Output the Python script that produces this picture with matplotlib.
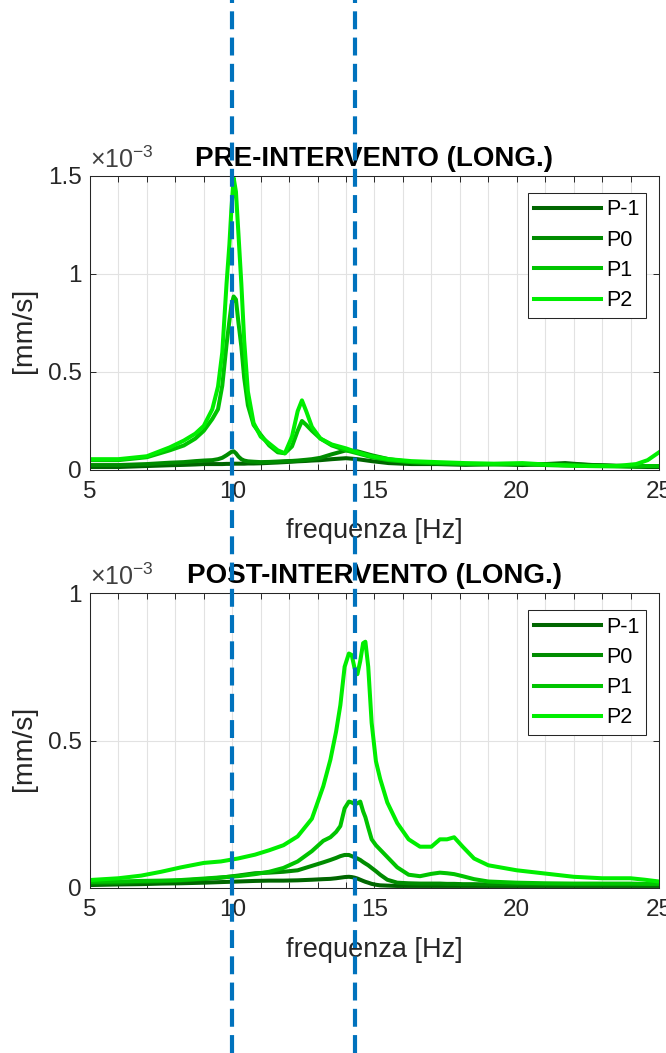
import matplotlib
matplotlib.use('Agg')
import matplotlib.pyplot as plt
import matplotlib.transforms as mtransforms
from matplotlib.lines import Line2D
from matplotlib.ticker import MultipleLocator, FuncFormatter

plt.rcParams['font.family'] = ['Liberation Sans', 'DejaVu Sans']
plt.rcParams['mathtext.fontset'] = 'custom'
plt.rcParams['mathtext.rm'] = 'Liberation Sans'
plt.rcParams['mathtext.it'] = 'Liberation Sans:italic'

# spettri in mm/s (valori x 1e-3)
freq_pre = [5.0, 6.0, 7.0, 7.8, 8.3, 8.7, 9.0, 9.3, 9.5, 9.65, 9.8, 9.9, 9.97, 10.05, 10.13,
            10.22, 10.32, 10.42, 10.55, 10.75, 11.0, 11.3, 11.6, 11.85, 12.1, 12.3, 12.45,
            12.6, 12.8, 13.1, 13.5, 14.0, 14.4, 14.9, 15.5, 16.3, 17.2, 18.2, 19.2, 20.2,
            21.0, 21.7, 22.5, 23.5, 24.2, 24.6, 25.0]
pre_pm1 = [0.015, 0.015, 0.02, 0.024, 0.026, 0.028, 0.03, 0.03, 0.03, 0.03, 0.031, 0.031,
           0.032, 0.032, 0.032, 0.032, 0.032, 0.032, 0.033, 0.033, 0.034, 0.036, 0.038, 0.04,
           0.042, 0.044, 0.045, 0.046, 0.048, 0.05, 0.055, 0.06, 0.055, 0.045, 0.035, 0.03,
           0.03, 0.026, 0.03, 0.025, 0.03, 0.035, 0.026, 0.02, 0.016, 0.015, 0.015]
pre_p0 = [0.025, 0.025, 0.03, 0.037, 0.04, 0.045, 0.048, 0.05, 0.055, 0.062, 0.075, 0.085,
          0.092, 0.095, 0.085, 0.068, 0.055, 0.048, 0.044, 0.042, 0.04, 0.041, 0.043, 0.045,
          0.046, 0.048, 0.05, 0.052, 0.055, 0.062, 0.08, 0.1, 0.095, 0.075, 0.055, 0.04,
          0.033, 0.03, 0.03, 0.03, 0.028, 0.03, 0.026, 0.022, 0.02, 0.02, 0.02]
pre_p1 = [0.05, 0.05, 0.065, 0.1, 0.125, 0.16, 0.2, 0.26, 0.31, 0.43, 0.64, 0.76, 0.84,
          0.885, 0.87, 0.75, 0.63, 0.47, 0.33, 0.23, 0.18, 0.125, 0.09, 0.085, 0.12, 0.2,
          0.25, 0.23, 0.2, 0.16, 0.125, 0.1, 0.085, 0.065, 0.05, 0.04, 0.035, 0.03, 0.028,
          0.03, 0.025, 0.022, 0.02, 0.018, 0.018, 0.02, 0.02]
pre_p2 = [0.055, 0.055, 0.07, 0.115, 0.15, 0.185, 0.225, 0.31, 0.425, 0.6, 0.95, 1.15, 1.33,
          1.49, 1.42, 1.2, 0.95, 0.66, 0.4, 0.24, 0.17, 0.135, 0.1, 0.085, 0.17, 0.3, 0.355,
          0.3, 0.22, 0.16, 0.13, 0.11, 0.09, 0.07, 0.055, 0.045, 0.04, 0.035, 0.032, 0.035,
          0.028, 0.024, 0.02, 0.02, 0.03, 0.05, 0.09]

freq_post = [5.0, 6.0, 6.8, 7.5, 8.2, 9.0, 9.6, 10.2, 10.8, 11.3, 11.8, 12.3, 12.8, 13.2,
             13.45, 13.65, 13.8, 13.95, 14.1, 14.2, 14.3, 14.4, 14.5, 14.6, 14.68, 14.78,
             14.9, 15.05, 15.2, 15.45, 15.8, 16.2, 16.6, 17.0, 17.3, 17.55, 17.8, 18.1, 18.5,
             19.0, 20.0, 21.0, 22.0, 23.0, 24.0, 24.5, 25.0]
post_pm1 = [0.01, 0.012, 0.013, 0.015, 0.016, 0.018, 0.02, 0.022, 0.024, 0.025, 0.025, 0.026,
            0.028, 0.03, 0.031, 0.033, 0.035, 0.037, 0.038, 0.037, 0.035, 0.032, 0.028, 0.024,
            0.021, 0.018, 0.014, 0.011, 0.009, 0.008, 0.007, 0.007, 0.007, 0.007, 0.007,
            0.007, 0.007, 0.007, 0.007, 0.007, 0.007, 0.007, 0.007, 0.007, 0.007, 0.007, 0.007]
post_p0 = [0.015, 0.017, 0.02, 0.022, 0.025, 0.03, 0.035, 0.042, 0.05, 0.052, 0.055, 0.06,
           0.075, 0.087, 0.095, 0.102, 0.108, 0.112, 0.112, 0.108, 0.104, 0.1, 0.095, 0.088,
           0.083, 0.077, 0.068, 0.057, 0.045, 0.028, 0.018, 0.016, 0.015, 0.015, 0.015, 0.014,
           0.014, 0.013, 0.013, 0.012, 0.012, 0.012, 0.012, 0.012, 0.012, 0.012, 0.012]
post_p1 = [0.021, 0.022, 0.024, 0.025, 0.027, 0.032, 0.036, 0.04, 0.047, 0.055, 0.068, 0.09,
           0.125, 0.16, 0.172, 0.19, 0.21, 0.27, 0.293, 0.29, 0.285, 0.287, 0.293, 0.26, 0.24,
           0.205, 0.165, 0.145, 0.13, 0.105, 0.07, 0.045, 0.04, 0.048, 0.052, 0.05, 0.047,
           0.04, 0.03, 0.022, 0.018, 0.016, 0.015, 0.015, 0.015, 0.014, 0.014]
post_p2 = [0.027, 0.033, 0.042, 0.055, 0.07, 0.085, 0.09, 0.1, 0.113, 0.128, 0.145, 0.175,
           0.235, 0.345, 0.435, 0.53, 0.62, 0.75, 0.795, 0.79, 0.745, 0.725, 0.77, 0.83, 0.835,
           0.75, 0.56, 0.43, 0.37, 0.29, 0.22, 0.165, 0.14, 0.14, 0.165, 0.165, 0.172, 0.14,
           0.1, 0.077, 0.06, 0.049, 0.038, 0.033, 0.033, 0.028, 0.022]

nomi = ['P-1', 'P0', 'P1', 'P2']
colori = ['#006600', '#008c00', '#00c400', '#00ee00']
linee_rif = [10.0, 14.3]  # frequenze tratteggiate [Hz]

fig = plt.figure(figsize=(6.66, 10.53), dpi=100)
ax1 = fig.add_axes([0.1351, 0.5537, 0.8544, 0.2792])
ax2 = fig.add_axes([0.1351, 0.1567, 0.8544, 0.2801])


def disegna(ax, freq, serie, titolo, ymax):
    for nome, col, y in zip(nomi, colori, serie):
        ax.plot(freq, y, color=col, lw=2.9, label=nome)
    ax.set_xlim(5, 25)
    ax.set_ylim(0, ymax)
    ax.xaxis.set_major_locator(MultipleLocator(5))
    ax.xaxis.set_minor_locator(MultipleLocator(1))
    ax.yaxis.set_major_locator(MultipleLocator(0.5))
    ax.yaxis.set_major_formatter(FuncFormatter(lambda v, p: f'{v:g}'))
    ax.grid(True, which='both', axis='x', color='#e2e2e2', lw=0.8)
    ax.grid(True, which='major', axis='y', color='#e2e2e2', lw=0.8)
    ax.set_axisbelow(True)
    ax.tick_params(which='both', direction='in', top=True, right=True,
                   colors='#262626', labelsize=17.5, width=0.7)
    ax.tick_params(which='major', length=4.5)
    ax.tick_params(which='minor', length=4)
    ax.tick_params(axis='x', pad=8)
    ax.tick_params(axis='y', pad=6)
    for sp in ax.spines.values():
        sp.set_color('#262626')
        sp.set_linewidth(0.75)
    ax.set_title(titolo, fontsize=20, fontweight='bold', pad=7)
    ax.set_xlabel('frequenza [Hz]', fontsize=19.5, color='#262626')
    ax.xaxis.set_label_coords(0.5, -0.165)
    ax.set_ylabel('[mm/s]', fontsize=20.5, color='#262626')
    ax.yaxis.set_label_coords(-0.093, 0.475)
    tr = mtransforms.offset_copy(ax.transAxes, fig=fig, x=0, y=8, units='dots')
    ax.text(0, 1, r'$\times10^{-3}$', transform=tr, ha='left', va='baseline',
            fontsize=18, color='#404040')
    leg = ax.legend(loc='upper right', bbox_to_anchor=(0.977, 0.942), borderaxespad=0,
                    fontsize=15.5, fancybox=False, framealpha=1, edgecolor='#262626',
                    handlelength=3.1, handletextpad=0.25, borderpad=0.3, labelspacing=0.43)
    leg.get_frame().set_linewidth(0.75)


disegna(ax1, freq_pre, [pre_pm1, pre_p0, pre_p1, pre_p2], 'PRE-INTERVENTO (LONG.)', 1.5)
disegna(ax2, freq_post, [post_pm1, post_p0, post_p1, post_p2], 'POST-INTERVENTO (LONG.)', 1.0)

# linee verticali tratteggiate su tutta la figura
tr_fig = mtransforms.blended_transform_factory(ax1.transData, fig.transFigure)
for xv in linee_rif:
    fig.add_artist(Line2D([xv, xv], [0, 1], transform=tr_fig, color='#0072BD',
                          lw=3, dashes=(4.3, 2.0), zorder=10))

fig.savefig('out.png', dpi=100)
